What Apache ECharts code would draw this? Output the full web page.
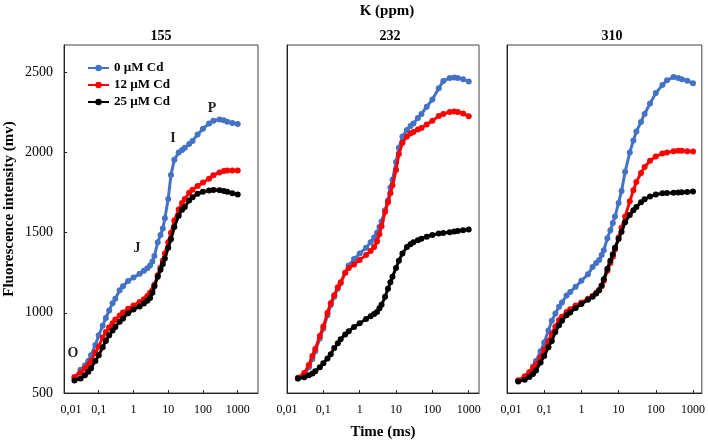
<!DOCTYPE html>
<html>
<head>
<meta charset="utf-8">
<script src="https://cdn.jsdelivr.net/npm/echarts@6/dist/echarts.min.js"></script>
<style>html,body{margin:0;padding:0;background:#fff}#c{width:708px;height:442px}</style>
</head>
<body>
<div id="c"></div>
<script>
// ---- data (time in ms, fluorescence in mV) ----
const times = [0.02,0.03,0.04,0.05,0.06,0.08,0.1,0.13,0.16,0.2,0.25,0.3,0.4,0.5,0.7,1,1.5,2,2.5,3,3.5,4,5,6,7,8,10,12,15,20,25,30,40,50,70,100,150,200,300,400,500,700,1000];
const seriesNames = ['0 µM Cd','12 µM Cd','25 µM Cd'];
const panelTitles = ['155','232','310'];
const xTickLabels = ['0,01','0,1','1','10','100','1000'];

// K 155 ppm
const k155_0  = [595,645,672,700,735,800,860,920,968,1015,1060,1088,1140,1165,1198,1220,1243,1262,1278,1295,1320,1355,1440,1485,1525,1590,1710,1860,1955,2000,2016,2030,2052,2072,2112,2148,2180,2198,2205,2200,2192,2183,2178];
const k155_12 = [600,628,652,675,700,752,790,845,880,910,935,958,984,1002,1025,1046,1068,1085,1105,1125,1142,1175,1235,1283,1325,1370,1440,1500,1575,1645,1684,1710,1748,1768,1790,1812,1836,1858,1875,1884,1888,1888,1887];
const k155_25 = [578,590,610,632,655,700,735,785,825,860,890,912,945,965,997,1020,1040,1058,1075,1092,1125,1165,1225,1268,1305,1338,1405,1458,1535,1605,1642,1660,1700,1720,1742,1755,1762,1766,1765,1760,1755,1745,1738];
// K 232 ppm
const k232_0  = [590,615,660,712,760,840,900,985,1048,1100,1150,1185,1250,1295,1335,1370,1405,1440,1470,1500,1535,1570,1640,1700,1780,1830,1940,2030,2100,2140,2165,2180,2215,2240,2285,2330,2400,2445,2465,2468,2465,2456,2443];
const k232_12 = [595,625,675,730,775,855,914,1000,1060,1110,1160,1190,1250,1280,1302,1330,1360,1385,1410,1444,1490,1540,1630,1690,1745,1795,1890,1990,2060,2100,2118,2128,2143,2153,2175,2197,2228,2240,2252,2255,2252,2243,2226];
const k232_25 = [590,598,610,622,635,660,685,715,742,780,810,835,865,885,912,935,962,978,992,1005,1028,1050,1100,1150,1190,1225,1280,1325,1370,1410,1428,1440,1452,1462,1475,1485,1494,1498,1503,1507,1510,1515,1520];
// K 310 ppm
const k310_0  = [575,598,630,665,700,760,815,890,950,995,1038,1065,1108,1130,1163,1200,1240,1285,1310,1330,1360,1390,1465,1515,1560,1600,1685,1760,1880,2000,2075,2130,2190,2240,2305,2370,2420,2450,2470,2465,2457,2447,2432];
const k310_12 = [580,604,630,656,680,725,770,825,870,915,955,975,1005,1022,1045,1065,1088,1105,1125,1142,1165,1200,1262,1310,1350,1395,1470,1530,1600,1695,1765,1815,1872,1910,1948,1975,1993,2000,2007,2010,2010,2008,2006];
const k310_25 = [572,582,600,618,640,690,730,785,825,880,922,950,985,1002,1030,1055,1082,1100,1120,1140,1170,1210,1275,1325,1365,1405,1460,1505,1565,1610,1640,1660,1690,1708,1725,1737,1745,1747,1748,1750,1752,1754,1756];

const panelData = [[k155_0,k155_12,k155_25],[k232_0,k232_12,k232_25],[k310_0,k310_12,k310_25]];
const colors = ['#4472c4','#ff0000','#000000'];

// ---- layout ----
const grids = [
  {left:64, top:45, width:194, height:348, xMax:3838, shift:7},
  {left:287, top:45, width:192, height:348, xMax:1920, shift:0},
  {left:507, top:45, width:198, height:348, xMax:1730, shift:4}
];
const serif = '"Liberation Serif","DejaVu Serif",serif';

const option = {
  animation:false,
  backgroundColor:'#fff',
  grid: grids.map(g=>({left:g.left, top:g.top, width:g.width, height:g.height, show:true, borderColor:'#444', borderWidth:1, containLabel:false})),
  xAxis: grids.map((g,i)=>({
    type:'log', logBase:10, gridIndex:i, min:0.01, max:g.xMax, splitNumber:6,
    axisLine:{show:true, lineStyle:{color:'#222', width:1}},
    axisTick:{show:true, inside:true, length:3, lineStyle:{color:'#222'}},
    splitLine:{show:false},
    axisLabel:{
      showMaxLabel:false, margin:11, color:'#000', fontFamily:serif, fontSize:12,
      formatter:function(v){
        const e = Math.round(Math.log10(v));
        const s = xTickLabels[e+2] || '';
        return e===-2 ? '{f|'+s+'}' : s;
      },
      rich:{f:{fontFamily:serif, fontSize:12, color:'#000', padding:[0,0,0,g.shift*2]}}
    }
  })),
  yAxis: grids.map((g,i)=>({
    type:'value', gridIndex:i, min:500, max:2670, interval:500,
    axisLine:{show:true, lineStyle:{color:'#222', width:1}},
    axisTick:{show:i===0, inside:true, length:3, lineStyle:{color:'#222'}},
    splitLine:{show:false},
    axisLabel:{show:i===0, showMaxLabel:false, margin:11, color:'#000', fontFamily:serif, fontSize:14,
      formatter:function(v){ return String(Math.round(v)); }}
  })),
  legend:{
    data:seriesNames, orient:'vertical', left:82, top:56, itemWidth:21, itemHeight:8, itemGap:3,
    textStyle:{fontFamily:serif, fontSize:13, fontWeight:'bold', color:'#000', lineHeight:14}
  },
  series:[],
  graphic:[
    {type:'text', x:387, y:11, style:{text:'K (ppm)', font:'bold 15px '+serif, fill:'#000', align:'center', verticalAlign:'middle'}},
    {type:'text', x:161, y:36, style:{text:panelTitles[0], font:'bold 14px '+serif, fill:'#000', align:'center', verticalAlign:'middle'}},
    {type:'text', x:390, y:36, style:{text:panelTitles[1], font:'bold 14px '+serif, fill:'#000', align:'center', verticalAlign:'middle'}},
    {type:'text', x:612, y:36, style:{text:panelTitles[2], font:'bold 14px '+serif, fill:'#000', align:'center', verticalAlign:'middle'}},
    {type:'text', x:383, y:432, style:{text:'Time (ms)', font:'bold 15px '+serif, fill:'#000', align:'center', verticalAlign:'middle'}},
    {type:'text', x:9, y:209, rotation:Math.PI/2, style:{text:'Fluorescence intensity (mv)', font:'bold 15px '+serif, fill:'#000', align:'center', verticalAlign:'middle'}},
    {type:'text', x:73, y:353, style:{text:'O', font:'bold 14px '+serif, fill:'#222', align:'center', verticalAlign:'middle'}},
    {type:'text', x:137, y:248, style:{text:'J', font:'bold 14px '+serif, fill:'#222', align:'center', verticalAlign:'middle'}},
    {type:'text', x:173, y:138, style:{text:'I', font:'bold 14px '+serif, fill:'#222', align:'center', verticalAlign:'middle'}},
    {type:'text', x:212, y:108, style:{text:'P', font:'bold 14px '+serif, fill:'#222', align:'center', verticalAlign:'middle'}}
  ]
};

panelData.forEach((sets,p)=>{
  sets.forEach((vals,s)=>{
    option.series.push({
      type:'line', name:seriesNames[s], xAxisIndex:p, yAxisIndex:p,
      data: times.map((t,k)=>[t, vals[k]]),
      symbol:'circle', symbolSize:6, showSymbol:true, showAllSymbol:true,
      itemStyle:{color:colors[s]}, lineStyle:{color:colors[s], width:3},
      z: 2+s
    });
  });
});

const chart = echarts.init(document.getElementById('c'), null, {renderer:'canvas'});
chart.setOption(option);
</script>
</body>
</html>
